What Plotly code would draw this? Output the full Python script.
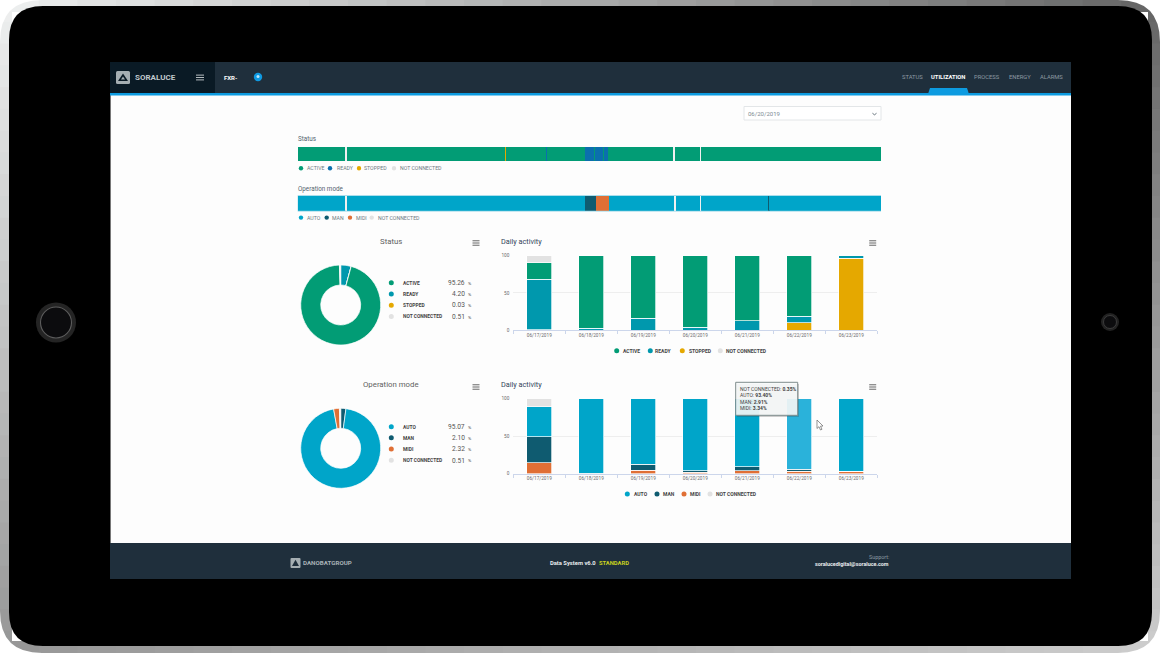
#!/usr/bin/env python3
# -*- coding: utf-8 -*-

import plotly.graph_objects as go

W = 1160
H = 653

# colours
ACTIVE = '#029c75'
READY = '#0098ad'
READY_STRIP = '#0b6fae'
STOPPED = '#e5a800'
NC = '#e2e2e2'
AUTO = '#00a5c9'
AUTO_HOVER = '#2ab2da'
MAN = '#0f5b70'
MIDI = '#e06f35'
NAV = '#1f2f3c'
NAV_DARK = '#0a1a25'

# timeline strips, (state, share of the day in %)
status_strip_states = ['ACTIVE', 'NC', 'ACTIVE', 'STOPPED', 'ACTIVE', 'READY', 'ACTIVE', 'READY', 'ACTIVE',
                       'READY', 'ACTIVE', 'READY', 'ACTIVE', 'NC', 'ACTIVE', 'NC', 'ACTIVE']
status_strip_values = [8.2, 0.2, 27.25, 0.08, 6.92, 0.05, 6.5, 1.7, 0.1, 1.4, 0.1, 0.7, 11.2, 0.35, 4.25, 0.15, 30.85]
mode_strip_states = ['AUTO', 'NC', 'AUTO', 'MAN', 'MIDI', 'AUTO', 'NC', 'AUTO', 'NC', 'AUTO', 'MAN', 'AUTO']
mode_strip_values = [8.2, 0.2, 40.85, 1.83, 2.28, 11.14, 0.35, 4.15, 0.15, 11.55, 0.12, 19.18]

# donuts
status_labels = ['READY', 'STOPPED', 'ACTIVE', 'NOT CONNECTED']
status_values = [4.20, 0.03, 95.26, 0.51]
mode_labels = ['MAN', 'AUTO', 'MIDI', 'NOT CONNECTED']
mode_values = [2.10, 95.07, 2.32, 0.51]

# daily activity
days = ['06/17/2019', '06/18/2019', '06/19/2019', '06/20/2019', '06/21/2019', '06/22/2019', '06/23/2019']
day_stopped = [0.5, 0, 0, 0, 0, 10, 96.4]
day_ready = [67.5, 3, 16, 4, 12.5, 9, 3.0]
day_active = [22, 97, 84, 96, 87.5, 81, 0.6]
day_nc = [10, 0, 0, 0, 0, 0, 0]
day_midi = [14.7, 0.2, 4.4, 2.2, 4.0, 3.34, 3.1]
day_man = [34.6, 0.3, 8.5, 1.8, 5.3, 2.91, 0.1]
day_auto = [40.0, 99.5, 87.1, 96.0, 90.7, 93.40, 96.8]
day_mode_nc = [10.7, 0, 0, 0, 0, 0.35, 0]


def px(x):
    return x / W


def py(y):
    return 1 - y / H


shapes = []
annotations = []


def rect(x0, y0, x1, y1, fill, line=None, layer='below'):
    shapes.append(dict(type='rect', xref='paper', yref='paper', x0=px(x0), x1=px(x1), y0=py(y0), y1=py(y1),
                       fillcolor=fill, line=dict(color=line or fill, width=1 if line else 0), layer=layer))


def path(points, fill, line=None, layer='below', width=1):
    shapes.append(dict(type='path', xref='paper', yref='paper', path=points, fillcolor=fill,
                       line=dict(color=line or fill, width=width if line else 0), layer=layer))


def poly(pts, fill, line=None, layer='below', width=1):
    d = 'M' + ' L'.join(f'{px(x):.5f},{py(y):.5f}' for x, y in pts) + ' Z'
    path(d, fill, line, layer, width)


def rounded(x0, y0, x1, y1, r):
    c = [(x0 + r, y0), (x1 - r, y0), (x1, y0), (x1, y0 + r), (x1, y1 - r), (x1, y1), (x1 - r, y1), (x0 + r, y1),
         (x0, y1), (x0, y1 - r), (x0, y0 + r), (x0, y0), (x0 + r, y0)]
    c = [f'{px(a):.5f},{py(b):.5f}' for a, b in c]
    return (f'M{c[0]} L{c[1]} Q{c[2]} {c[3]} L{c[4]} Q{c[5]} {c[6]} L{c[7]} Q{c[8]} {c[9]} '
            f'L{c[10]} Q{c[11]} {c[12]} Z')


def dot(x, y, r, color, line=None, layer='below', width=1):
    shapes.append(dict(type='circle', xref='paper', yref='paper', x0=px(x - r), x1=px(x + r), y0=py(y + r),
                       y1=py(y - r), fillcolor=color, line=dict(color=line or color, width=width if line else 0),
                       layer=layer))


def label(x, y, text, size=5.5, color='#666666', anchor='left', bold=False):
    annotations.append(dict(xref='paper', yref='paper', x=px(x), y=py(y), text=f'<b>{text}</b>' if bold else text,
                            showarrow=False, xanchor=anchor, yanchor='middle', borderpad=0,
                            font=dict(family='Roboto', size=size, color=color)))


def burger(x, y, color='#555555', half=3.5, gap=2.2):
    for d in (-gap, 0, gap):
        rect(x - half, y + d - 0.45, x + half, y + d + 0.45, color)


def mix(a, b, t):
    return '#' + ''.join(f'{round(a[i] + (b[i] - a[i]) * t):02x}' for i in range(3))


# tablet frame
N = 30
frame_tl, frame_tr, frame_bl, frame_br = (238, 240, 240), (100, 100, 100), (150, 150, 150), (205, 205, 205)
rect(0, 0, W, H, '#ffffff')
for i in range(N):
    t = i / N
    rect(W * t, 0, W * (t + 1 / N) + 1, 12, mix(frame_tl, frame_tr, t + 0.5 / N))
    rect(W * t, H - 12, W * (t + 1 / N) + 1, H, mix(frame_bl, frame_br, t + 0.5 / N))
    rect(0, H * t, 12, H * (t + 1 / N) + 1, mix(frame_tl, frame_bl, t + 0.5 / N))
    rect(W - 12, H * t, W, H * (t + 1 / N) + 1, mix(frame_tr, frame_br, t + 0.5 / N))
corner = 42
for cx, cy, sx, sy in [(0, 0, 1, 1), (W, 0, -1, 1), (0, H, 1, -1), (W, H, -1, -1)]:
    path(f'M{px(cx):.5f},{py(cy):.5f} L{px(cx + sx * corner):.5f},{py(cy):.5f} '
         f'Q{px(cx):.5f},{py(cy):.5f} {px(cx):.5f},{py(cy + sy * corner):.5f} Z', '#ffffff')
path(rounded(9, 6, 1152, 646, 34), '#000000')

# home button and camera
dot(56, 322.5, 20, '#242424')
dot(56, 322.5, 15.5, '#0c0c0e', line='#5c5c5c', width=1.1)
dot(1110, 322, 9, '#222222')
dot(1110, 322, 6.5, '#0c0c0e', line='#444444', width=0.8)

# page
rect(110, 62, 1071, 579, '#fdfdfd')
rect(110, 62, 111, 579, '#777777')
rect(110, 62, 1071, 94, NAV)
rect(110, 62, 215, 93, NAV_DARK)
rect(110, 93, 1071, 95.5, '#0d9be0')
rect(110, 543, 1071, 579, NAV)

# nav bar
path(rounded(116, 71, 130, 84, 1.5), '#a5aeb2')
poly([(123, 73.5), (128, 81), (118, 81)], NAV_DARK)
poly([(123, 76.5), (125, 79.5), (121, 79.5)], '#a5aeb2')
label(133.5, 77.3, 'SORALUCE', 8, '#c0c8cc', bold=True)
burger(200, 77.5, '#c8cfd2', 4, 2.4)
label(222.7, 77.5, 'FXR-', 6, '#ffffff', bold=True)
dot(258, 77, 4.2, '#0f9ae2')
dot(258, 76.5, 1.5, '#bfe6f8')
tab_names = ['STATUS', 'UTILIZATION', 'PROCESS', 'ENERGY', 'ALARMS']
tab_x = [912, 948, 987, 1019.5, 1051.5]
for name, x in zip(tab_names, tab_x):
    active = name == 'UTILIZATION'
    label(x, 77.5, name, 5.8, '#ffffff' if active else '#8d99a2', 'center', bold=active)
poly([(928, 94), (930, 88), (967, 88), (969, 94)], '#0d9be0')

# date selector
rect(744, 106.5, 881, 120, '#ffffff', line='#e3e6e8')
label(747, 113.5, '06/20/2019', 6, '#7d8a93')
poly([(872.5, 112.5), (874.5, 114.7), (876.5, 112.5), (876.5, 113.4), (874.5, 115.6), (872.5, 113.4)], '#55636d')

# strip titles and legends
label(297, 139, 'Status', 6.3, '#53646f')
label(297, 188.5, 'Operation mode', 6.3, '#53646f')
rect(297.7, 195.3, 881, 211.4, '#8fd3e6')
strip_legend_y = [168.3, 217.6]
for x, tx, name, c in zip([301, 330, 359, 394], [305.5, 335.5, 363.5, 399],
                          ['ACTIVE', 'READY', 'STOPPED', 'NOT CONNECTED'], [ACTIVE, READY_STRIP, STOPPED, NC]):
    dot(x, strip_legend_y[0], 2.2, c)
    label(tx, strip_legend_y[0], name, 5.2, '#6e7a82')
for x, tx, name, c in zip([301, 326.7, 350, 371.7], [305.5, 331, 355.2, 376.5],
                          ['AUTO', 'MAN', 'MIDI', 'NOT CONNECTED'], [AUTO, MAN, MIDI, NC]):
    dot(x, strip_legend_y[1], 2.2, c)
    label(tx, strip_legend_y[1], name, 5.2, '#6e7a82')

# panel titles
label(391, 241.5, 'Status', 7.8, '#5f5f5f', 'center')
label(391, 385, 'Operation mode', 7.8, '#5f5f5f', 'center')
label(500, 241.5, 'Daily activity', 7.3, '#33445a')
label(500, 385, 'Daily activity', 7.3, '#33445a')
burger(476, 243)
burger(476, 387)
burger(872.7, 243)
burger(872.7, 387)

# donut legends
status_colors = {'ACTIVE': ACTIVE, 'READY': READY, 'STOPPED': STOPPED, 'NOT CONNECTED': NC}
mode_colors = {'AUTO': AUTO, 'MAN': MAN, 'MIDI': MIDI, 'NOT CONNECTED': NC}
legend_order = [('ACTIVE', status_labels, status_values, status_colors, 282.7),
                ('READY', status_labels, status_values, status_colors, 294),
                ('STOPPED', status_labels, status_values, status_colors, 305.2),
                ('NOT CONNECTED', status_labels, status_values, status_colors, 316.5),
                ('AUTO', mode_labels, mode_values, mode_colors, 426.7),
                ('MAN', mode_labels, mode_values, mode_colors, 437.8),
                ('MIDI', mode_labels, mode_values, mode_colors, 449),
                ('NOT CONNECTED', mode_labels, mode_values, mode_colors, 460.2)]
for name, names, values, colors, y in legend_order:
    dot(391.3, y, 2.5, colors[name])
    label(402.2, y, name, 4.9, '#444444', bold=True)
    label(466.3, y + 0.3, f'{values[names.index(name)]:.2f}', 6.6, '#555555', 'right')
    label(467, y + 0.7, '%', 4.4, '#555555')

# daily legends
for x, tx, name, c in zip([616.7, 650.3, 682.3, 720.3], [621.5, 654.5, 687.5, 725.2],
                          ['ACTIVE', 'READY', 'STOPPED', 'NOT CONNECTED'], [ACTIVE, READY, STOPPED, NC]):
    dot(x, 350.7, 2.5, c)
    label(tx, 350.9, name, 5, '#444444', bold=True)
for x, tx, name, c in zip([627.3, 657, 684, 710], [632.5, 661.5, 689.2, 714.5],
                          ['AUTO', 'MAN', 'MIDI', 'NOT CONNECTED'], [AUTO, MAN, MIDI, NC]):
    dot(x, 494, 2.5, c)
    label(tx, 494.2, name, 5, '#444444', bold=True)

# footer
path(rounded(290.5, 558, 300.5, 568, 1), '#a5aeb2')
poly([(295.5, 559.8), (299, 566), (292, 566)], NAV)
label(301.5, 563.3, 'DANOBATGROUP', 6.2, '#a9b2b7', bold=True)
label(548.5, 562.5, 'Data System v6.0', 5.8, '#e8ecee', bold=True)
label(597.5, 562.5, 'STANDARD', 5.8, '#c9d21c', bold=True)
label(889.5, 557, 'Support:', 5.4, '#8e9aa2', 'right')
label(889.5, 563.5, 'soralucedigital@soraluce.com', 5.4, '#e8ecee', 'right', bold=True)

# tooltip and cursor
hover = 5
rect(737, 384, 799, 417, 'rgba(60,60,60,0.25)', layer='above')
rect(735.7, 382.3, 797.7, 415.3, 'rgba(247,250,250,0.9)', line='#7f8c8c', layer='above')
tip_rows = [('NOT CONNECTED', day_mode_nc[hover], 388.8), ('AUTO', day_auto[hover], 395.3),
            ('MAN', day_man[hover], 401.8), ('MIDI', day_midi[hover], 408.3)]
for name, v, y in tip_rows:
    label(738.5, y, f'{name}: <b>{v:.2f}%</b>', 5, '#444444')
poly([(817, 420), (817, 428.5), (819, 426.7), (820.5, 430), (822, 429.3), (820.5, 426.2), (823, 426)],
     '#ffffff', line='#666666', layer='above', width=0.7)

fig = go.Figure()

# strips
strip_colors = {'ACTIVE': ACTIVE, 'READY': READY_STRIP, 'STOPPED': STOPPED, 'NC': '#f0f0f0',
                'AUTO': AUTO, 'MAN': MAN, 'MIDI': MIDI}
for state, v in zip(status_strip_states, status_strip_values):
    fig.add_trace(go.Bar(x=[v], y=[0], width=[1], orientation='h', marker=dict(color=strip_colors[state], line_width=0),
                         xaxis='x', yaxis='y', showlegend=False, name=state))
for state, v in zip(mode_strip_states, mode_strip_values):
    fig.add_trace(go.Bar(x=[v], y=[0], width=[1], orientation='h', marker=dict(color=strip_colors[state], line_width=0),
                         xaxis='x2', yaxis='y2', showlegend=False, name=state))

# daily bars, bottom of the stack first
for values, c, name in [(day_stopped, STOPPED, 'STOPPED'), (day_ready, READY, 'READY'),
                        (day_active, ACTIVE, 'ACTIVE'), (day_nc, NC, 'NOT CONNECTED')]:
    fig.add_trace(go.Bar(x=days, y=values, width=0.475, name=name, xaxis='x3', yaxis='y3', showlegend=False,
                         marker=dict(color=c, line=dict(color='#ffffff', width=0.7))))
for values, c, name in [(day_midi, MIDI, 'MIDI'), (day_man, MAN, 'MAN'), (day_auto, AUTO, 'AUTO'),
                        (day_mode_nc, NC, 'NOT CONNECTED')]:
    colors = [c] * len(days)
    if name == 'AUTO':
        colors[hover] = AUTO_HOVER
    fig.add_trace(go.Bar(x=days, y=values, width=0.475, name=name, xaxis='x4', yaxis='y4', showlegend=False,
                         marker=dict(color=colors, line=dict(color='#ffffff', width=0.7))))

# donuts
fig.add_trace(go.Pie(labels=status_labels, values=status_values, hole=0.5, sort=False, direction='clockwise',
                     rotation=0, textinfo='none', showlegend=False,
                     marker=dict(colors=[status_colors[n] for n in status_labels],
                                 line=dict(color='#ffffff', width=0.7)),
                     domain=dict(x=[px(300.7), px(380.7)], y=[py(345), py(265)])))
fig.add_trace(go.Pie(labels=mode_labels, values=mode_values, hole=0.5, sort=False, direction='clockwise',
                     rotation=0, textinfo='none', showlegend=False,
                     marker=dict(colors=[mode_colors[n] for n in mode_labels],
                                 line=dict(color='#ffffff', width=0.7)),
                     domain=dict(x=[px(300.7), px(380.7)], y=[py(488.3), py(408.3)])))

hidden = dict(visible=False, fixedrange=True)
day_x = dict(type='category', tickson='boundaries', ticks='outside', ticklen=3, tickwidth=0.7, tickcolor='#ccd6eb',
             showline=True, linecolor='#ccd6eb', linewidth=0.7, showgrid=False, tickangle=0, categoryorder='array',
             categoryarray=days, tickfont=dict(family='Roboto', size=4.7, color='#6a6a6a'))
day_y = dict(range=[0, 100], tickvals=[0, 50, 100], gridcolor='#eeeeee', gridwidth=0.7, zeroline=False,
             ticklabelstandoff=3, tickfont=dict(family='Roboto', size=4.7, color='#6a6a6a'))

fig.update_layout(
    width=W,
    height=H,
    margin=dict(l=0, r=0, t=0, b=0, autoexpand=False),
    paper_bgcolor='#ffffff',
    plot_bgcolor='rgba(0,0,0,0)',
    barmode='stack',
    showlegend=False,
    shapes=shapes,
    annotations=annotations,
    xaxis=dict(domain=[px(297.7), px(881)], range=[0, sum(status_strip_values)], anchor='y', **hidden),
    yaxis=dict(domain=[py(161), py(147)], range=[-0.5, 0.5], anchor='x', **hidden),
    xaxis2=dict(domain=[px(297.7), px(881)], range=[0, sum(mode_strip_values)], anchor='y2', **hidden),
    yaxis2=dict(domain=[py(210.7), py(196)], range=[-0.5, 0.5], anchor='x2', **hidden),
    xaxis3=dict(domain=[px(513.3), px(877.3)], anchor='y3', **day_x),
    yaxis3=dict(domain=[py(330.3), py(255.5)], anchor='x3', **day_y),
    xaxis4=dict(domain=[px(513.3), px(877.3)], anchor='y4', **day_x),
    yaxis4=dict(domain=[py(473.7), py(398.7)], anchor='x4', **day_y),
)

fig.write_html('out.html', post_script="document.body.style.margin='0';", config=dict(displayModeBar=False))
